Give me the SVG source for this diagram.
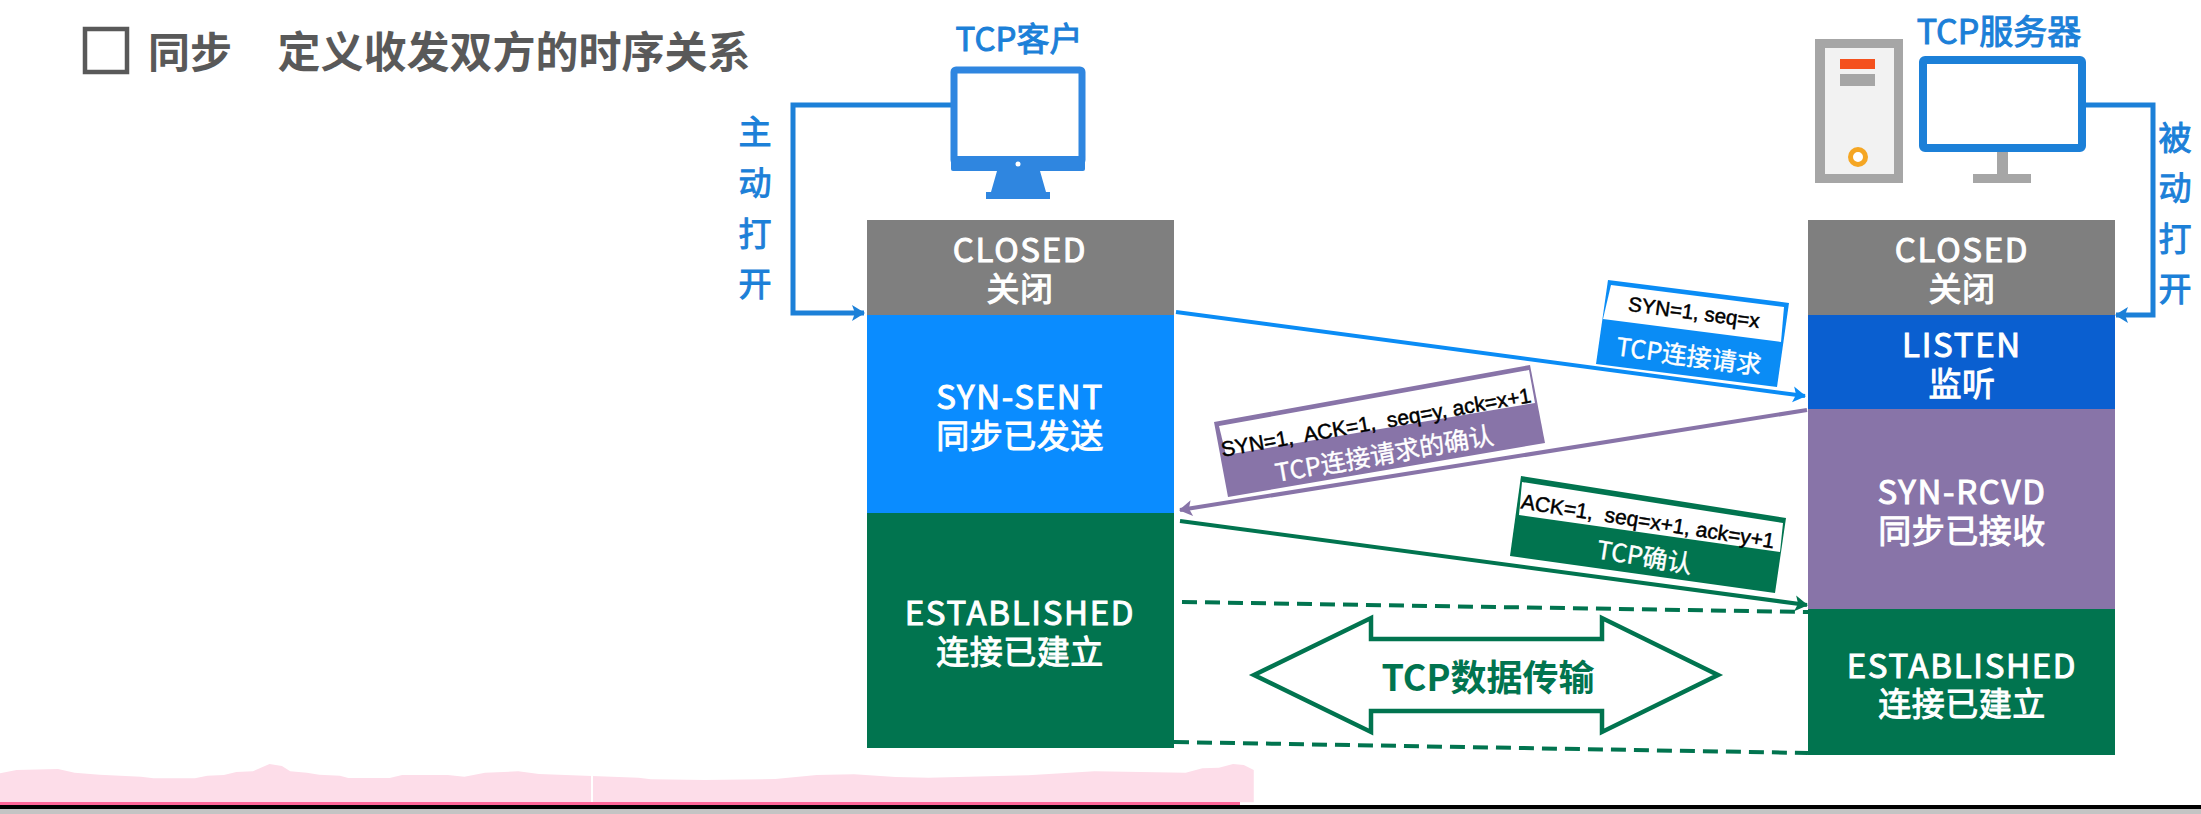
<svg xmlns="http://www.w3.org/2000/svg" width="2201" height="814" viewBox="0 0 2201 814">
<style>
text{font-family:"Noto Sans CJK SC","Noto Sans",sans-serif;text-anchor:middle;dominant-baseline:central}
.st{fill:#fff;stroke:#fff;stroke-width:1px;font-size:33px;letter-spacing:.5px}
.lat{letter-spacing:1.7px}
.blue{fill:#1c80d8;stroke:#1c80d8;stroke-width:1px;font-size:33px}
.msg{fill:#000;stroke:#000;stroke-width:.5px;font-family:"Liberation Sans",Arial,sans-serif;font-size:21px;white-space:pre}
.cap{fill:#fff;stroke:#fff;stroke-width:.4px;font-size:25px}
.ln{fill:none;stroke-width:4}
.dash{fill:none;stroke:#01744f;stroke-width:4;stroke-dasharray:15 8}
</style>
<defs>
<marker id="aBlue" markerUnits="userSpaceOnUse" markerWidth="16" markerHeight="18" refX="13" refY="9" orient="auto"><path d="M1 1L14 9L1 17L4 9Z" fill="#1c80d8"/></marker>
<marker id="aSky" markerUnits="userSpaceOnUse" markerWidth="16" markerHeight="18" refX="13" refY="9" orient="auto"><path d="M1 1L14 9L1 17L4 9Z" fill="#0a8cf5"/></marker>
<marker id="aPur" markerUnits="userSpaceOnUse" markerWidth="16" markerHeight="18" refX="13" refY="9" orient="auto"><path d="M1 1L14 9L1 17L4 9Z" fill="#8874a8"/></marker>
<marker id="aGrn" markerUnits="userSpaceOnUse" markerWidth="16" markerHeight="18" refX="13" refY="9" orient="auto"><path d="M1 1L14 9L1 17L4 9Z" fill="#01744f"/></marker>
</defs>
<rect width="2201" height="814" fill="#fff"/>

<g id="timeline-bar">
<path transform="translate(0,730) scale(0.8292,0.3333)" fill="#fddde9" d="M0 130L20 120L70 117L90 128L120 134L170 140L185 145L235 145L250 137L270 135L285 126L305 124L325 102L340 108L350 124L370 128L385 134L410 137L420 144L470 144L485 135L540 135L560 140L585 128L625 124L650 132L770 143L785 148L850 150L935 147L985 135L1030 133L1080 141L1120 143L1240 136L1320 124L1430 128L1450 115L1470 113L1487 102L1500 105L1512 120L1512 217L0 217Z"/>
<rect x="591" y="773" width="2" height="30" fill="#fff"/>
<rect x="0" y="802" width="1240" height="3" fill="#ff6699"/>
<rect x="0" y="805" width="2201" height="4" fill="#000"/>
<rect x="0" y="809" width="2201" height="5" fill="#c4c4c4"/>
</g>

<g id="title">
<rect x="85" y="29" width="42" height="43" fill="none" stroke="#595959" stroke-width="4.5"/>
<text x="190" y="49" font-size="42" font-weight="700" fill="#595959">同步</text>
<text x="514" y="49" font-size="43" font-weight="700" fill="#595959">定义收发双方的时序关系</text>
</g>

<g id="connectors">
<path class="ln" stroke="#1c80d8" style="stroke-width:5" d="M951 105H793V313H864" marker-end="url(#aBlue)"/>
<path class="ln" stroke="#1c80d8" style="stroke-width:5" d="M2086 105H2153V315H2116" marker-end="url(#aBlue)"/>
<path class="ln" stroke="#0a8cf5" d="M1176 312L1805 396" marker-end="url(#aSky)"/>
<path class="ln" stroke="#8874a8" d="M1807 410L1180 510" marker-end="url(#aPur)"/>
<path class="ln" stroke="#01744f" d="M1180 521L1807 605" marker-end="url(#aGrn)"/>
<path class="dash" d="M1182 602L1809 612"/>
<path class="dash" d="M1174 742L1808 753"/>
</g>

<g id="client">
<text x="1019" y="37" class="blue">TCP客户</text>
<rect x="954" y="70" width="128" height="92" fill="#fff" stroke="#2f86e0" stroke-width="7" rx="2"/>
<rect x="951" y="156" width="134" height="15" fill="#2f86e0" rx="2"/>
<circle cx="1018" cy="164" r="2.5" fill="#fff"/>
<path d="M997 171H1040L1046 192H1050V199H986V192H991Z" fill="#2f86e0"/>
</g>

<g id="server">
<text x="1999" y="29" class="blue" style="font-size:34px">TCP服务器</text>
<rect x="1815" y="39" width="88" height="144" fill="#a6a6a6"/>
<rect x="1825" y="48" width="69" height="126" fill="#f2f2f2"/>
<rect x="1840" y="59" width="35" height="10" fill="#f4511e"/>
<rect x="1840" y="74" width="35" height="12" fill="#a6a6a6"/>
<circle cx="1858" cy="157" r="7.5" fill="#fff" stroke="#f5a623" stroke-width="5"/>
<rect x="1923" y="60" width="159" height="88" fill="#fff" stroke="#1c80d8" stroke-width="8" rx="2"/>
<rect x="1997" y="152" width="11" height="24" fill="#a6a6a6"/>
<rect x="1973" y="174" width="58" height="9" fill="#a6a6a6"/>
</g>

<g id="label-active">
<text x="755" y="130" class="blue">主</text>
<text x="755" y="181" class="blue">动</text>
<text x="755" y="232" class="blue">打</text>
<text x="755" y="282" class="blue">开</text>
</g>
<g id="label-passive">
<text x="2175" y="136" class="blue">被</text>
<text x="2175" y="186" class="blue">动</text>
<text x="2175" y="237" class="blue">打</text>
<text x="2175" y="287" class="blue">开</text>
</g>

<g id="client-closed">
<rect x="867" y="220" width="307" height="95" fill="#7f7f7f"/>
<text x="1020" y="248" class="st lat">CLOSED</text>
<text x="1020" y="287" class="st">关闭</text>
</g>
<g id="client-syn-sent">
<rect x="867" y="315" width="307" height="198" fill="#0a8cff"/>
<text x="1020" y="395" class="st lat">SYN-SENT</text>
<text x="1020" y="434" class="st">同步已发送</text>
</g>
<g id="client-established">
<rect x="867" y="513" width="307" height="235" fill="#01744f"/>
<text x="1020" y="611" class="st lat">ESTABLISHED</text>
<text x="1020" y="650" class="st">连接已建立</text>
</g>
<g id="server-closed">
<rect x="1808" y="220" width="307" height="95" fill="#7f7f7f"/>
<text x="1962" y="248" class="st lat">CLOSED</text>
<text x="1962" y="287" class="st">关闭</text>
</g>
<g id="server-listen">
<rect x="1808" y="315" width="307" height="94" fill="#0a5fd0"/>
<text x="1962" y="343" class="st lat">LISTEN</text>
<text x="1962" y="382" class="st">监听</text>
</g>
<g id="server-syn-rcvd">
<rect x="1808" y="409" width="307" height="200" fill="#8874a8"/>
<text x="1962" y="490" class="st lat">SYN-RCVD</text>
<text x="1962" y="529" class="st">同步已接收</text>
</g>
<g id="server-established">
<rect x="1808" y="609" width="307" height="146" fill="#01744f"/>
<text x="1962" y="664" class="st lat">ESTABLISHED</text>
<text x="1962" y="702" class="st">连接已建立</text>
</g>

<g id="msg-syn">
<path d="M1608 280L1789 303L1777 387L1596 364Z" fill="#0a8cf5"/>
<path d="M1611 285L1784 307L1781 342L1603 319Z" fill="#fff"/>
<text class="msg" style="font-size:20.5px" transform="translate(1694,312) rotate(7.5)">SYN=1, seq=x</text>
<text class="cap" transform="translate(1689,354) rotate(7.5)">TCP连接请求</text>
</g>
<g id="msg-syn-ack">
<path d="M1214 422L1530 365L1545 443L1228 497Z" fill="#8874a8"/>
<path d="M1219 426L1529 370L1535 403L1226 455Z" fill="#fff"/>
<text class="msg" transform="translate(1376,422) rotate(-10)">SYN=1,  ACK=1,  seq=y, ack=x+1</text>
<text class="cap" transform="translate(1384,452) rotate(-10)">TCP连接请求的确认</text>
</g>
<g id="msg-ack">
<path d="M1521 476L1786 518L1775 593L1510 556Z" fill="#01744f"/>
<path d="M1522 482L1783 523L1780 552L1519 515Z" fill="#fff"/>
<text class="msg" transform="translate(1648,521) rotate(9)">ACK=1,  seq=x+1, ack=y+1</text>
<text class="cap" transform="translate(1645,555) rotate(9)">TCP确认</text>
</g>

<g id="data-transfer">
<path d="M1254 675L1371 618V639H1602V618L1718 675L1602 732V711H1371V732Z" fill="#fff" stroke="#01744f" stroke-width="4.5"/>
<text x="1488" y="675" font-size="36" font-weight="700" fill="#01744f">TCP数据传输</text>
</g>
</svg>
